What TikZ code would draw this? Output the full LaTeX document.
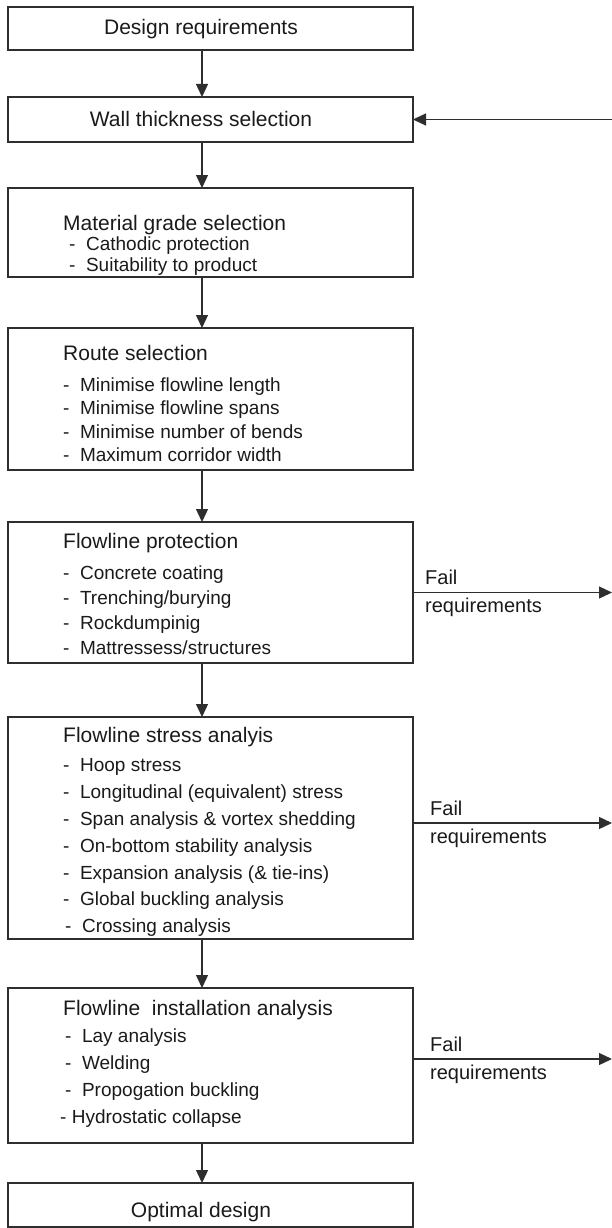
\documentclass[tikz,border=0pt]{standalone}
\usepackage{fontspec}
\setmainfont{Liberation Sans}
\usetikzlibrary{arrows.meta}
\definecolor{ln}{HTML}{2E2E2E}
\definecolor{tx}{HTML}{1A1A1A}
\begin{document}
\begin{tikzpicture}[x=1pt,y=-1pt,
  box/.style={draw=ln, line width=1.5pt, minimum width=405pt, inner sep=0pt, outer sep=0pt},
  hd/.style={font=\fontsize{21}{25}\selectfont, text=tx, anchor=base west, inner sep=0pt},
  hdc/.style={font=\fontsize{21}{25}\selectfont, text=tx, anchor=base, inner sep=0pt},
  itm/.style={font=\fontsize{19}{22}\selectfont, text=tx, anchor=base west, inner sep=0pt},
  fl/.style={font=\fontsize{20}{24}\selectfont, text=tx, anchor=base west, inner sep=0pt},
  arr/.style={draw=ln, line width=1.3pt, -{Triangle[length=13pt,width=12pt]}}]
\useasboundingbox (0,0) rectangle (612,1228);
\coordinate (ax) at (202,0);
\coordinate (re) at (612,0);
% boxes
\node[box, minimum height=43pt]  (dr) at (210.5,28.5) {};
\node[box, minimum height=45pt]  (wt) at (210.5,119.5) {};
\node[box, minimum height=89pt]  (mg) at (210.5,232.5) {};
\node[box, minimum height=142pt] (rs) at (210.5,399) {};
\node[box, minimum height=141pt] (fp) at (210.5,592.5) {};
\node[box, minimum height=222pt] (fs) at (210.5,828) {};
\node[box, minimum height=155pt] (fi) at (210.5,1065.5) {};
\node[box, minimum height=44pt]  (od) at (210.5,1205) {};
% texts
\node[hdc] (tdr) at (201,34.5) {Design requirements};
\node[hdc] (twt) at (201,126.5) {Wall thickness selection};
\node[hd] (tmg) at (63,230.5) {Material grade selection};
\node[itm] (mg1) at (69,250) {-~~Cathodic protection};
\node[itm] (mg2) at (69,271) {-~~Suitability to product};
\node[hd] (trs) at (63,360.5) {Route selection};
\node[itm] (rs1) at (63,391.8) {-~~Minimise flowline length};
\node[itm] (rs2) at (63,414.8) {-~~Minimise flowline spans};
\node[itm] (rs3) at (63,438.8) {-~~Minimise number of bends};
\node[itm] (rs4) at (63,461.8) {-~~Maximum corridor width};
\node[hd] (tfp) at (63,548.5) {Flowline protection};
\node[itm] (fp1) at (63,579.8) {-~~Concrete coating};
\node[itm] (fp2) at (63,604.8) {-~~Trenching/burying};
\node[itm] (fp3) at (63,629.8) {-~~Rockdumpinig};
\node[itm] (fp4) at (63,654.8) {-~~Mattressess/structures};
\node[hd] (tfs) at (63,742.5) {Flowline stress analyis};
\node[itm] (fs1) at (63,771.8) {-~~Hoop stress};
\node[itm] (fs2) at (63,798.6) {-~~Longitudinal (equivalent) stress};
\node[itm] (fs3) at (63,825.4) {-~~Span analysis \& vortex shedding};
\node[itm] (fs4) at (63,852.2) {-~~On-bottom stability analysis};
\node[itm] (fs5) at (63,879) {-~~Expansion analysis (\& tie-ins)};
\node[itm] (fs6) at (63,905.8) {-~~Global buckling analysis};
\node[itm] (fs7) at (65,932.6) {-~~Crossing analysis};
\node[hd] (tfi) at (63,1015.5) {Flowline~~installation analysis};
\node[itm] (fi1) at (65,1042.8) {-~~Lay analysis};
\node[itm] (fi2) at (65,1069.8) {-~~Welding};
\node[itm] (fi3) at (65,1096.8) {-~~Propogation buckling};
\node[itm] (fi4) at (60,1123.8) {-~Hydrostatic collapse};
\node[hdc] (tod) at (201,1217.5) {Optimal design};
% main flow arrows
\draw[arr] (dr.south -| ax) -- (wt.north -| ax);
\draw[arr] (wt.south -| ax) -- (mg.north -| ax);
\draw[arr] (mg.south -| ax) -- (rs.north -| ax);
\draw[arr] (rs.south -| ax) -- (fp.north -| ax);
\draw[arr] (fp.south -| ax) -- (fs.north -| ax);
\draw[arr] (fs.south -| ax) -- (fi.north -| ax);
\draw[arr] (fi.south -| ax) -- (od.north -| ax);
% feedback arrow
\draw[arr] (re |- wt.east) -- (wt.east);
% fail arrows
\draw[arr] (fp.east) -- (fp.east -| re);
\draw[arr] ([yshift=5pt]fs.east) -- ([yshift=5pt]fs.east -| re);
\draw[arr] ([yshift=6.5pt]fi.east) -- ([yshift=6.5pt]fi.east -| re);
% fail labels
\node[fl] (f1a) at (425,584) {Fail};
\node[fl] (f1b) at (425,612) {requirements};
\node[fl] (f2a) at (430,815) {Fail};
\node[fl] (f2b) at (430,843) {requirements};
\node[fl] (f3a) at (430,1051) {Fail};
\node[fl] (f3b) at (430,1079) {requirements};
\end{tikzpicture}
\end{document}
